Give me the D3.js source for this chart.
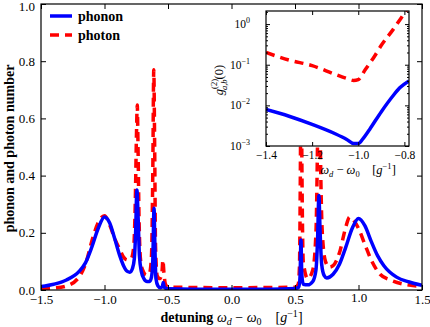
<!DOCTYPE html>
<html>
<head>
<meta charset="utf-8">
<script src="https://cdn.jsdelivr.net/npm/d3@7"></script>
<style>
body { margin: 0; background: #fff; }
svg { display: block; }
text { font-family: "Liberation Serif", "DejaVu Serif", serif; fill: #000; }
</style>
</head>
<body>
<svg width="430" height="327"></svg>
<script>
// main panel - phonon / photon number vs detuning
const phononX = [-1.5,-1.4,-1.3,-1.2,-1.15,-1.1,-1.05,-1.0,-0.96,-0.92,-0.88,-0.85,-0.82,-0.8,-0.78,-0.765,-0.755,-0.745,-0.735,-0.725,-0.71,-0.69,-0.665,-0.645,-0.63,-0.62,-0.61,-0.603,-0.595,-0.58,-0.56,-0.545,-0.537,-0.53,-0.5,-0.3,0.0,0.3,0.5,0.53,0.54,0.547,0.553,0.565,0.6,0.64,0.665,0.678,0.688,0.698,0.71,0.73,0.75,0.8,0.85,0.9,0.95,1.0,1.05,1.1,1.15,1.2,1.3,1.4,1.5];
const phononY = [0.012,0.02,0.035,0.065,0.095,0.15,0.215,0.255,0.235,0.18,0.12,0.085,0.065,0.062,0.075,0.11,0.2,0.35,0.25,0.12,0.065,0.04,0.03,0.03,0.045,0.1,0.286,0.15,0.04,0.015,0.008,0.012,0.026,0.01,0.004,0.003,0.003,0.003,0.005,0.01,0.05,0.175,0.06,0.02,0.018,0.03,0.07,0.18,0.33,0.2,0.09,0.05,0.042,0.055,0.09,0.15,0.215,0.25,0.225,0.17,0.12,0.085,0.045,0.028,0.016];
const photonX = [-1.5,-1.4,-1.3,-1.19,-1.15,-1.09,-1.05,-1.0,-0.957,-0.92,-0.878,-0.85,-0.82,-0.79,-0.77,-0.758,-0.748,-0.742,-0.736,-0.728,-0.715,-0.7,-0.67,-0.645,-0.63,-0.62,-0.612,-0.605,-0.598,-0.585,-0.565,-0.548,-0.54,-0.532,-0.52,-0.5,0.0,0.5,0.525,0.535,0.542,0.548,0.555,0.565,0.6,0.64,0.665,0.68,0.69,0.7,0.715,0.74,0.77,0.8,0.85,0.9,0.93,0.96,1.0,1.05,1.1,1.17,1.25,1.4,1.5];
const photonY = [0.005,0.007,0.014,0.052,0.09,0.186,0.235,0.26,0.225,0.18,0.14,0.115,0.105,0.11,0.15,0.3,0.55,0.647,0.5,0.25,0.1,0.07,0.052,0.06,0.12,0.4,0.77,0.5,0.15,0.05,0.04,0.06,0.105,0.06,0.02,0.01,0.008,0.01,0.02,0.08,0.4,0.85,0.4,0.1,0.04,0.07,0.2,0.6,0.95,0.5,0.2,0.1,0.08,0.085,0.13,0.22,0.255,0.245,0.215,0.16,0.105,0.055,0.035,0.017,0.012];
const xTicks = [-1.5, -1.0, -0.5, 0.0, 0.5, 1.0, 1.5];
const yTicks = [0.0, 0.2, 0.4, 0.6, 0.8, 1.0];

// inset - g2(0) vs detuning (log)
const insetPhononX = [-1.4,-1.3,-1.2,-1.1,-1.05,-1.02,-1.0,-0.98,-0.95,-0.9,-0.85,-0.82,-0.78];
const insetPhononY = [7.9e-3,5.4e-3,3.4e-3,2.0e-3,1.45e-3,1.15e-3,1.15e-3,1.5e-3,2.6e-3,7e-3,0.017,0.027,0.04];
const insetPhotonX = [-1.4,-1.3,-1.2,-1.1,-1.05,-1.02,-1.0,-0.97,-0.93,-0.9,-0.85,-0.8,-0.78];
const insetPhotonY = [0.2,0.13,0.095,0.058,0.046,0.041,0.043,0.075,0.16,0.3,0.72,1.85,2.7];
const insetXTicks = [-1.4, -1.2, -1.0, -0.8];
const insetYTicks = [1e-3, 1e-2, 1e-1, 1e0];

const svg = d3.select("svg");
const blue = "#0000ff", red = "#ff0000";

// area of main plot
const area = { left: 41, right: 422, top: 4, bottom: 290 };
const scX = d3.scaleLinear().domain([-1.5, 1.5]).range([area.left, area.right]);
const scY = d3.scaleLinear().domain([0, 1]).range([area.bottom, area.top]);

svg.append("clipPath").attr("id", "clipMain")
	.append("rect").attr("x", area.left).attr("y", area.top)
	.attr("width", area.right - area.left).attr("height", area.bottom - area.top);

function fmt(v) { return d3.format(".1f")(v).replace("-", "\u2212"); }

// curves
const lineMain = (xs, ys) => d3.line()
	.x((d, i) => scX(xs[i])).y((d, i) => scY(ys[i]))
	.curve(d3.curveMonotoneX)(ys);

svg.append("path").attr("d", lineMain(photonX, photonY))
	.attr("clip-path", "url(#clipMain)")
	.attr("fill", "none").attr("stroke", red).attr("stroke-width", 3.5)
	.attr("stroke-dasharray", "9,6");
svg.append("path").attr("d", lineMain(phononX, phononY))
	.attr("clip-path", "url(#clipMain)")
	.attr("fill", "none").attr("stroke", blue).attr("stroke-width", 3.5)
	.attr("stroke-linejoin", "round");

// axes with inward ticks on all 4 sides
const tl = 5;
const gAx = svg.append("g");
gAx.call(g => g.append("g").attr("transform", `translate(0,${area.bottom})`)
	.call(d3.axisBottom(scX).tickValues(xTicks).tickSize(-tl).tickPadding(5).tickFormat(fmt)));
gAx.call(g => g.append("g").attr("transform", `translate(0,${area.top})`)
	.call(d3.axisTop(scX).tickValues(xTicks).tickSize(-tl).tickFormat("")));
gAx.call(g => g.append("g").attr("transform", `translate(${area.left},0)`)
	.call(d3.axisLeft(scY).tickValues(yTicks).tickSize(-tl).tickPadding(6).tickFormat(fmt)));
gAx.call(g => g.append("g").attr("transform", `translate(${area.right},0)`)
	.call(d3.axisRight(scY).tickValues(yTicks).tickSize(-tl).tickFormat("")));
gAx.selectAll(".domain").remove();
gAx.selectAll("line").attr("stroke", "#000").attr("stroke-width", 1);
gAx.selectAll("text").style("font-family", "'Liberation Serif', serif").style("font-size", "13px");
// keep the top label inside the window
gAx.selectAll("text").filter(d => d === 1.0 && yTicks.includes(d)).attr("dy", "0.5em");
svg.append("rect").attr("x", area.left).attr("y", area.top)
	.attr("width", area.right - area.left).attr("height", area.bottom - area.top)
	.attr("fill", "none").attr("stroke", "#000").attr("stroke-width", 1.2);

// axis labels
svg.append("text").attr("transform", `translate(14,148.5) rotate(-90)`)
	.attr("text-anchor", "middle").style("font-weight", "bold").style("font-size", "14px")
	.text("phonon and photon number");

const xl = svg.append("text").attr("x", 231.5).attr("y", 322)
	.attr("text-anchor", "middle").style("font-size", "14px");
xl.append("tspan").style("font-weight", "bold").text("detuning ");
xl.append("tspan").style("font-style", "italic").text("ω");
xl.append("tspan").style("font-style", "italic").style("font-size", "10px").attr("dy", 3).text("d");
xl.append("tspan").attr("dy", -3).text(" \u2212 ");
xl.append("tspan").style("font-style", "italic").text("ω");
xl.append("tspan").style("font-size", "10px").attr("dy", 3).text("0");
xl.append("tspan").attr("dy", -3).text("\u2003[");
xl.append("tspan").style("font-style", "italic").text("g");
xl.append("tspan").style("font-size", "10px").attr("dy", -5).text("\u22121");
xl.append("tspan").attr("dy", 5).text("]");

// legend
const legend = [{ name: "phonon", color: blue, dash: null, y: 16 },
	{ name: "photon", color: red, dash: "9,6", y: 35 }];
legend.forEach(l => {
	svg.append("line").attr("x1", 50).attr("x2", 72).attr("y1", l.y).attr("y2", l.y)
		.attr("stroke", l.color).attr("stroke-width", 3.5).attr("stroke-dasharray", l.dash);
	svg.append("text").attr("x", 78).attr("y", l.y + 4.5)
		.style("font-weight", "bold").style("font-size", "14px").text(l.name);
});

// inset
const ins = { left: 266, right: 409, top: 11, bottom: 146 };
const isX = d3.scaleLinear().domain([-1.4, -0.78]).range([ins.left, ins.right]);
const isY = d3.scaleLog().domain([1e-3, 2.1]).range([ins.bottom, ins.top]);

svg.append("rect").attr("x", ins.left).attr("y", ins.top)
	.attr("width", ins.right - ins.left).attr("height", ins.bottom - ins.top)
	.attr("fill", "#fff");
svg.append("clipPath").attr("id", "clipIns")
	.append("rect").attr("x", ins.left).attr("y", ins.top)
	.attr("width", ins.right - ins.left).attr("height", ins.bottom - ins.top);

const lineIns = (xs, ys) => d3.line()
	.x((d, i) => isX(xs[i])).y((d, i) => isY(ys[i]))
	.curve(d3.curveMonotoneX)(ys);
svg.append("path").attr("d", lineIns(insetPhotonX, insetPhotonY))
	.attr("clip-path", "url(#clipIns)")
	.attr("fill", "none").attr("stroke", red).attr("stroke-width", 3.5)
	.attr("stroke-dasharray", "9,6");
svg.append("path").attr("d", lineIns(insetPhononX, insetPhononY))
	.attr("clip-path", "url(#clipIns)")
	.attr("fill", "none").attr("stroke", blue).attr("stroke-width", 3.5);

// inset ticks
const minor = [];
insetYTicks.forEach(t => { for (let k = 2; k <= 9; k++) if (t * k < 2.1) minor.push(t * k); });
const gIn = svg.append("g");
gIn.append("g").attr("transform", `translate(0,${ins.bottom})`)
	.call(d3.axisBottom(isX).tickValues(insetXTicks).tickSize(-4).tickPadding(5).tickFormat(fmt));
gIn.append("g").attr("transform", `translate(0,${ins.top})`)
	.call(d3.axisTop(isX).tickValues(insetXTicks).tickSize(-4).tickFormat(""));
gIn.append("g").attr("transform", `translate(${ins.left},0)`)
	.call(d3.axisLeft(isY).tickValues(insetYTicks).tickSize(-4).tickFormat(""));
gIn.append("g").attr("transform", `translate(${ins.right},0)`)
	.call(d3.axisRight(isY).tickValues(insetYTicks).tickSize(-4).tickFormat(""));
gIn.append("g").attr("transform", `translate(${ins.left},0)`)
	.call(d3.axisLeft(isY).tickValues(minor).tickSize(-2).tickFormat(""));
gIn.append("g").attr("transform", `translate(${ins.right},0)`)
	.call(d3.axisRight(isY).tickValues(minor).tickSize(-2).tickFormat(""));
gIn.selectAll(".domain").remove();
gIn.selectAll("line").attr("stroke", "#000");
gIn.selectAll("text").style("font-family", "'Liberation Serif', serif").style("font-size", "11.5px");

// log labels 10^k
insetYTicks.forEach(t => {
	const e = Math.round(Math.log10(t));
	const lab = svg.append("text").attr("x", 250).attr("y", isY(t) + 4)
		.attr("text-anchor", "end").style("font-size", "11.5px");
	lab.append("tspan").text("10");
	lab.append("tspan").attr("dy", -5).style("font-size", "8px").text(e === 0 ? "0" : "\u2212" + (-e));
});

svg.append("rect").attr("x", ins.left).attr("y", ins.top)
	.attr("width", ins.right - ins.left).attr("height", ins.bottom - ins.top)
	.attr("fill", "none").attr("stroke", "#000").attr("stroke-width", 1.2);

// inset labels
const yl = svg.append("text").attr("transform", "translate(223,80) rotate(-90)")
	.attr("text-anchor", "middle").style("font-size", "12.5px");
yl.append("tspan").style("font-style", "italic").text("g");
yl.append("tspan").style("font-size", "8.5px").attr("dy", -6).text("(2)");
yl.append("tspan").style("font-size", "8.5px").style("font-style", "italic").attr("dx", -11).attr("dy", 10).text("a,b");
yl.append("tspan").attr("dy", -4).text("(0)");

const il = svg.append("text").attr("x", 358).attr("y", 174)
	.attr("text-anchor", "middle").style("font-size", "12.5px");
il.append("tspan").style("font-style", "italic").text("ω");
il.append("tspan").style("font-style", "italic").style("font-size", "8.5px").attr("dy", 3).text("d");
il.append("tspan").attr("dy", -3).text(" \u2212 ");
il.append("tspan").style("font-style", "italic").text("ω");
il.append("tspan").style("font-size", "8.5px").attr("dy", 3).text("0");
il.append("tspan").attr("dy", -3).text("\u2003[");
il.append("tspan").style("font-style", "italic").text("g");
il.append("tspan").style("font-size", "8.5px").attr("dy", -5).text("\u22121");
il.append("tspan").attr("dy", 5).text("]");
</script>
</body>
</html>
